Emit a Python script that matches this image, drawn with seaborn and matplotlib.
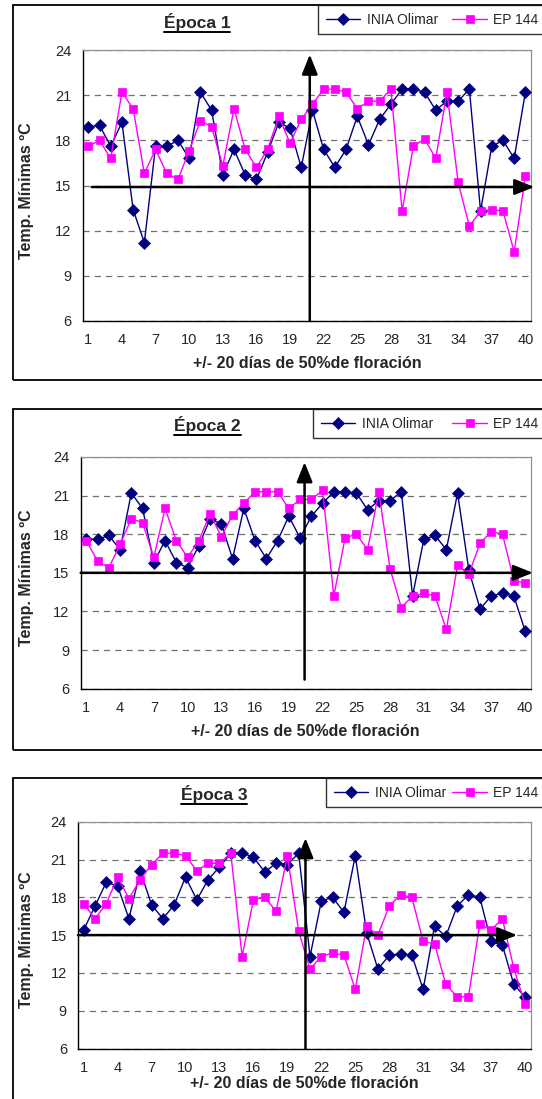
import numpy as np
import pandas as pd
import matplotlib
matplotlib.use("Agg")
import matplotlib.pyplot as plt
from matplotlib.patches import Rectangle
from matplotlib.lines import Line2D
import seaborn as sns

# ---- data: minimum temperature (ºC), +/- 20 days around 50% flowering ----
dias = list(range(1, 41))
variedades = ["INIA Olimar", "EP 144"]
epocas = ["Época 1", "Época 2", "Época 3"]

e1_inia = [18.9, 19.0, 17.6, 19.2, 13.4, 11.2, 17.6, 17.6, 18.0, 16.8,
           21.2, 20.0, 15.7, 17.4, 15.7, 15.4, 17.2, 19.2, 18.8, 16.2,
           20.0, 17.4, 16.2, 17.4, 19.6, 17.7, 19.4, 20.4, 21.4, 21.4,
           21.2, 20.0, 20.6, 20.6, 21.4, 13.3, 17.6, 18.0, 16.8, 21.2]
e1_ep = [17.6, 18.0, 16.8, 21.2, 20.1, 15.8, 17.4, 15.8, 15.4, 17.3,
         19.3, 18.9, 16.3, 20.1, 17.4, 16.2, 17.4, 19.6, 17.8, 19.4,
         20.4, 21.4, 21.4, 21.2, 20.1, 20.6, 20.6, 21.4, 13.3, 17.6,
         18.1, 16.8, 21.2, 15.2, 12.3, 13.3, 13.4, 13.3, 10.6, 15.6]

e2_inia = [17.6, 17.6, 17.9, 16.8, 21.2, 20.0, 15.8, 17.5, 15.8, 15.4,
           17.1, 19.2, 18.8, 16.1, 20.0, 17.5, 16.1, 17.5, 19.4, 17.7,
           19.4, 20.4, 21.3, 21.3, 21.2, 19.9, 20.6, 20.6, 21.3, 13.2,
           17.6, 17.9, 16.8, 21.2, 15.2, 12.2, 13.2, 13.4, 13.2, 10.5]
e2_ep = [17.5, 15.9, 15.4, 17.2, 19.2, 18.9, 16.2, 20.0, 17.5, 16.2,
         17.5, 19.6, 17.8, 19.5, 20.4, 21.3, 21.3, 21.3, 20.0, 20.7,
         20.7, 21.4, 13.2, 17.7, 18.0, 16.8, 21.3, 15.3, 12.3, 13.2,
         13.4, 13.2, 10.6, 15.6, 14.9, 17.3, 18.2, 18.0, 14.4, 14.2]

e3_inia = [15.4, 17.3, 19.2, 18.9, 16.3, 20.1, 17.4, 16.3, 17.4, 19.6,
           17.8, 19.4, 20.4, 21.5, 21.5, 21.2, 20.0, 20.7, 20.6, 21.5,
           13.3, 17.7, 18.0, 16.8, 21.3, 15.2, 12.3, 13.4, 13.5, 13.4,
           10.7, 15.7, 14.9, 17.3, 18.2, 18.0, 14.5, 14.2, 11.1, 10.1]
e3_ep = [17.5, 16.3, 17.5, 19.6, 17.9, 19.4, 20.6, 21.5, 21.5, 21.3,
         20.1, 20.7, 20.7, 21.5, 13.3, 17.8, 18.0, 16.9, 21.3, 15.3,
         12.3, 13.3, 13.6, 13.4, 10.7, 15.7, 15.0, 17.3, 18.2, 18.0,
         14.5, 14.3, 11.1, 10.1, 10.1, 15.9, 15.4, 16.3, 12.4, 9.5]

series = [(e1_inia, e1_ep), (e2_inia, e2_ep), (e3_inia, e3_ep)]
y_ticks = [6, 9, 12, 15, 18, 21, 24]
x_ticks = list(range(1, 41, 3))

colores = {"INIA Olimar": "#000080", "EP 144": "#FF00FF"}
marcadores = {"INIA Olimar": "D", "EP 144": "s"}
tam_marcador = {"INIA Olimar": 6.2, "EP 144": 5.6}

# ---- layout (pixel geometry of each chart block) ----
W, H = 542, 1099
paneles = [
    dict(plot=(82.7, 50, 531, 321), box=(12.8, 5, 379.5), leg_left=318,
         leg_colsp=1.04, title=(197, 22), xlab_y=363, ylab_x=27,
         hline=(1.3, 40.8, 14.9), vline=(20.76, 6.0, 23.7)),
    dict(plot=(80.7, 457, 530.7, 688.6), box=(12.8, 409, 750), leg_left=313,
         leg_colsp=1.4, title=(207.6, 425), xlab_y=731, ylab_x=27,
         hline=(0.5, 40.7, 15.0), vline=(20.4, 6.7, 23.6)),
    dict(plot=(78, 821.7, 530.7, 1048.5), box=(12.8, 778, 1120), leg_left=326,
         leg_colsp=0.46, title=(214, 794), xlab_y=1083, ylab_x=27,
         hline=(0.5, 39.3, 15.0), vline=(20.6, 6.0, 22.7)),
]

sns.set_style("white")
plt.rcParams["font.family"] = ["Liberation Sans", "DejaVu Sans"]

fig = plt.figure(figsize=(W / 100, H / 100), dpi=100)


def fx(px):
    return px / W


def fy(py):
    return 1 - py / H


titulos = []
for (inia, ep), epoca, p in zip(series, epocas, paneles):
    l, t, r, b = p["plot"]
    bl, bt, bb = p["box"]

    # outer frame of the chart block
    fig.add_artist(Rectangle((fx(bl), fy(bb)), fx(W + 30 - bl), fy(bt) - fy(bb),
                             transform=fig.transFigure, fill=False,
                             edgecolor="black", lw=1.3, zorder=0))

    ax = fig.add_axes([fx(l), fy(b), fx(r - l), fy(t) - fy(b)])
    df = pd.DataFrame({"dia": dias * 2,
                       "temp": inia + ep,
                       "variedad": [variedades[0]] * 40 + [variedades[1]] * 40})

    for v in variedades:
        sub = df[df["variedad"] == v]
        sns.lineplot(data=sub, x="dia", y="temp", ax=ax, color=colores[v],
                     marker=marcadores[v], markersize=tam_marcador[v],
                     markeredgecolor=colores[v], markeredgewidth=0.5,
                     linewidth=1.0, label=v, legend=False, zorder=3)

    ax.set_xlim(0.5, 40.5)
    ax.set_ylim(6, 24)
    ax.set_yticks(y_ticks)
    ax.set_yticklabels([str(v) for v in y_ticks], fontsize=10.5)
    ax.set_xticks(x_ticks)
    ax.set_xticklabels([str(v) for v in x_ticks], fontsize=10.5)
    ax.set_xticks(np.arange(0.5, 41, 1), minor=True)
    ax.tick_params(axis="x", which="major", length=0, pad=9)
    ax.tick_params(axis="x", which="minor", length=4, width=0.8,
                   direction="out", color="black")
    ax.tick_params(axis="y", length=5, width=0.8, direction="out",
                   color="black", pad=3)

    ax.yaxis.grid(True, linestyle=(0, (5, 4)), color="#707070", lw=0.9)
    ax.xaxis.grid(False)
    for s in ("left", "bottom"):
        ax.spines[s].set_color("black")
        ax.spines[s].set_linewidth(1.0)
    for s in ("top", "right"):
        ax.spines[s].set_color("#909090")
        ax.spines[s].set_linewidth(0.9)

    ax.set_xlabel("+/- 20 días de 50%de floración", fontsize=11.5,
                  fontweight="bold", va="center")
    ax.xaxis.set_label_coords(0.5, (b - p["xlab_y"]) / (b - t))
    ax.set_ylabel("Temp. Mínimas ºC", fontsize=11.5, fontweight="bold",
                  va="center")
    ax.yaxis.set_label_coords((p["ylab_x"] - l) / (r - l), 0.48)

    # reference arrows: threshold 15 ºC and day of 50% flowering
    x0, x1, yh = p["hline"]
    ax.annotate("", xy=(x1, yh), xytext=(x0, yh),
                arrowprops=dict(arrowstyle="-|>,head_length=0.6,head_width=0.24",
                                color="black", lw=1.8, shrinkA=0, shrinkB=0,
                                mutation_scale=20),
                annotation_clip=False, zorder=5)
    xv, y0, y1 = p["vline"]
    ax.annotate("", xy=(xv, y1), xytext=(xv, y0),
                arrowprops=dict(arrowstyle="-|>,head_length=0.6,head_width=0.24",
                                color="black", lw=1.8, shrinkA=0, shrinkB=0,
                                mutation_scale=20),
                annotation_clip=False, zorder=5)

    handles = ax.lines[:2]
    leg = ax.legend(handles, variedades, loc="upper left",
                    bbox_to_anchor=(fx(p["leg_left"]), fy(bt)),
                    bbox_transform=fig.transFigure, ncol=2, frameon=True,
                    fancybox=False, edgecolor="black", borderaxespad=0,
                    borderpad=0.55, handlelength=2.5, handletextpad=0.45,
                    columnspacing=p["leg_colsp"], fontsize=10)
    leg.get_frame().set_linewidth(1.0)
    leg.get_frame().set_facecolor("white")
    leg.set_zorder(10)

    tx, ty = p["title"]
    titulos.append(fig.text(fx(tx), fy(ty), epoca, ha="center", va="center",
                            fontsize=12.5, fontweight="bold"))

# underline the block titles
fig.canvas.draw()
renderer = fig.canvas.get_renderer()
for txt in titulos:
    bb = txt.get_window_extent(renderer).transformed(fig.transFigure.inverted())
    yline = bb.y0 - 1.0 / H
    fig.add_artist(Line2D([bb.x0, bb.x1], [yline, yline],
                          transform=fig.transFigure, color="black", lw=1.4))

fig.savefig("out.png", dpi=100)
